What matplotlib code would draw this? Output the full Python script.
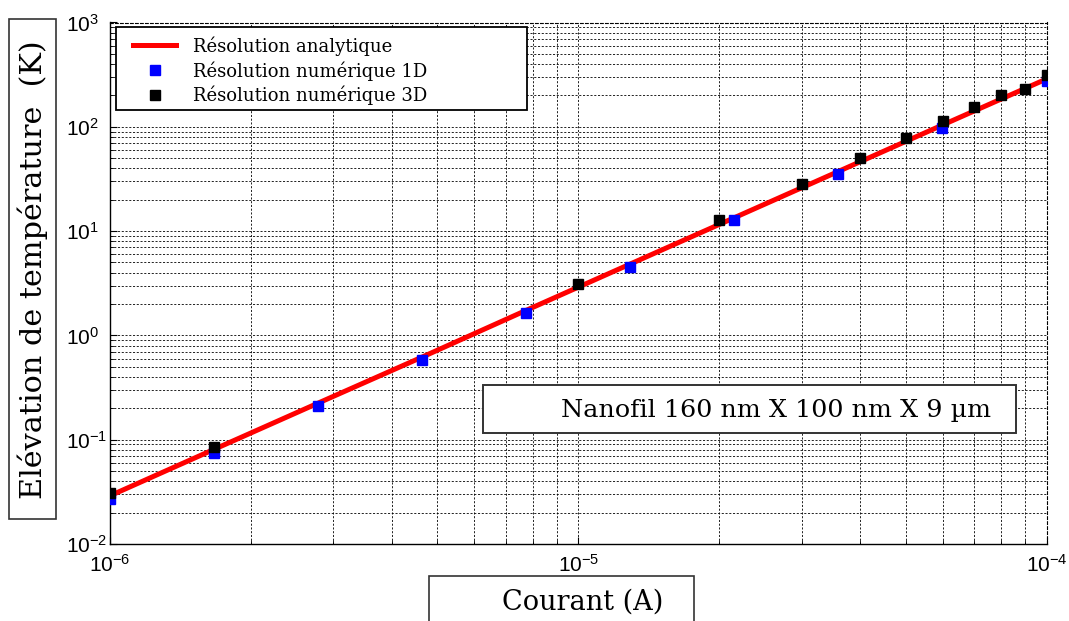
import numpy as np
import matplotlib
matplotlib.use("Agg")
import matplotlib.pyplot as plt
from matplotlib.patches import Rectangle

# valeurs
courant_analytique = [1.0e-6, 1.67e-6, 2.78e-6, 4.64e-6, 7.74e-6, 1.29e-5, 2.15e-5, 3.59e-5, 5.99e-5, 1.0e-4]
temp_analytique = [0.029, 0.081, 0.224, 0.62, 1.74, 4.83, 13.4, 37.3, 104, 288]

courant_1d = [1.0e-6, 1.67e-6, 2.78e-6, 4.64e-6, 7.74e-6, 1.29e-5, 2.15e-5, 3.59e-5, 5.99e-5, 1.0e-4]
temp_1d = [0.027, 0.075, 0.210, 0.58, 1.64, 4.56, 12.7, 35.0, 98, 275]

courant_3d = [1.0e-6, 1.67e-6, 1.0e-5, 2.0e-5, 3.0e-5, 4.0e-5, 5.0e-5, 6.0e-5, 7.0e-5, 8.0e-5, 9.0e-5, 1.0e-4]
temp_3d = [0.031, 0.086, 3.13, 12.7, 28.3, 50.6, 78.6, 114, 156, 202, 229, 314]

y_ticks = [1e-2, 1e-1, 1e0, 1e1, 1e2, 1e3]
y_ticklabels = [r"$10^{-2}$", r"$10^{-1}$", r"$10^{0}$", r"$10^{1}$", r"$10^{2}$", r"$10^{3}$"]

labels = ["Résolution analytique", "Résolution numérique 1D", "Résolution numérique 3D"]
xlabel = "Courant (A)"
ylabel = "Elévation de température  (K)"
note = "Nanofil 160 nm X 100 nm X 9 µm"

W_PX, H_PX = 1069, 621
SERIF = "DejaVu Serif"

plt.rcParams['mathtext.fontset'] = 'custom'
plt.rcParams['mathtext.rm'] = 'Liberation Sans'
plt.rcParams['mathtext.it'] = 'Liberation Sans'
plt.rcParams['font.family'] = ['Liberation Sans', 'DejaVu Sans']


def fx(x):
    return x / W_PX


def fy(y):
    return 1 - y / H_PX


fig = plt.figure(figsize=(W_PX / 100, H_PX / 100), dpi=100)
ax_l, ax_r, ax_t, ax_b = 110, 1046.7, 22.5, 544
ax = fig.add_axes([fx(ax_l), fy(ax_b), (ax_r - ax_l) / W_PX, (ax_b - ax_t) / H_PX])

ax.plot(courant_analytique, temp_analytique, color="#ff0000", lw=3.6, label=labels[0], zorder=3)
ax.plot(courant_1d, temp_1d, ls="none", marker="s", ms=7, color="#0000ff", mec="#0000ff", label=labels[1], zorder=4)
ax.plot(courant_3d, temp_3d, ls="none", marker="s", ms=7.5, color="black", mec="black", label=labels[2], zorder=4.2)

ax.set_xscale("log")
ax.set_yscale("log")
ax.set_xlim(1e-6, 1e-4)
ax.set_ylim(1e-2, 1e3)
ax.set_yticks(y_ticks)
ax.set_yticklabels(y_ticklabels, ha="left")

dash = (0, (2.5, 2))
ax.grid(True, which="both", ls=dash, color="black", lw=0.6)
ax.set_axisbelow(True)
for s in ["top", "right"]:
    ax.spines[s].set_linestyle(dash)
    ax.spines[s].set_linewidth(0.8)
for s in ["left", "bottom"]:
    ax.spines[s].set_linewidth(1.0)

ax.tick_params(which="both", direction="in", labelsize=15)
ax.tick_params(which="major", length=5)
ax.tick_params(which="minor", length=3)
ax.tick_params(axis="x", pad=7)
ax.tick_params(axis="y", pad=(ax_l - 66) * 0.72)

# cadre de la légende dessiné à part (plus large que le contenu)
ax.add_patch(Rectangle((fx(116), fy(110)), (527 - 116) / W_PX, (110 - 27) / H_PX,
                       transform=fig.transFigure, clip_on=False, facecolor="white",
                       edgecolor="black", lw=1.3, zorder=4.8))
lx = (125 - ax_l) / (ax_r - ax_l)
ly = (ax_b - 28) / (ax_b - ax_t)
leg = ax.legend(loc="upper left", bbox_to_anchor=(lx, ly), borderaxespad=0, frameon=False,
                prop={"family": SERIF, "size": 13}, handlelength=2.4, handletextpad=0.9,
                labelspacing=0.3, borderpad=0.45, numpoints=1)
leg.set_zorder(5)

# boite de l'axe y
fig.patches.append(Rectangle((fx(9), fy(519)), (56 - 9) / W_PX, (519 - 19) / H_PX,
                             transform=fig.transFigure, fill=True, facecolor="white",
                             edgecolor="#333333", lw=1.2))
fig.text(fx(33), fy(270), ylabel, rotation=90, ha="center", va="center",
         family=SERIF, fontsize=21.8)

# boite de l'axe x
fig.patches.append(Rectangle((fx(429), fy(640)), (694 - 429) / W_PX, (640 - 576) / H_PX,
                             transform=fig.transFigure, fill=True, facecolor="white",
                             edgecolor="#333333", lw=1.2))
fig.text(fx(583), fy(602), xlabel, ha="center", va="center", family=SERIF, fontsize=19.5)

# annotation nanofil
fig.patches.append(Rectangle((fx(483), fy(433)), (1016 - 483) / W_PX, (433 - 385) / H_PX,
                             transform=fig.transFigure, fill=True, facecolor="white",
                             edgecolor="#333333", lw=1.4, zorder=6))
fig.text(fx(776), fy(410), note, ha="center", va="center", family=SERIF, fontsize=18.3, zorder=7)

fig.savefig("out.png", dpi=100)
